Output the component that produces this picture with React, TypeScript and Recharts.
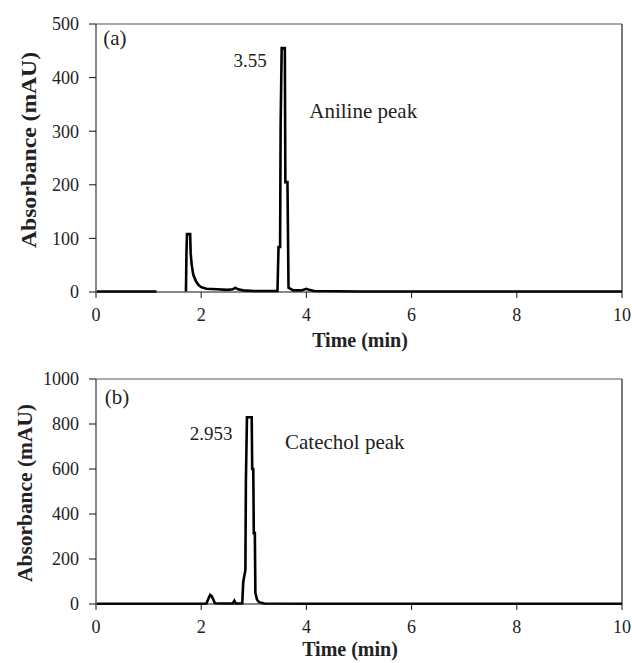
import React from 'react';
import { LineChart, Line, XAxis, YAxis, ReferenceLine, ReferenceDot } from 'recharts';

const SERIF = '"Liberation Serif", "Times New Roman", serif';

// ── Panel (a): aniline chromatogram ────────────────────────────
const timeA = [
  0.02, 0.5, 1.0, 1.15, 1.16, 1.70, 1.71, 1.72, 1.73, 1.79, 1.80, 1.82, 1.85, 1.90, 1.95,
  2.00, 2.10, 2.30, 2.50, 2.60, 2.65, 2.70, 2.80, 3.00, 3.20, 3.45, 3.47, 3.50, 3.51,
  3.53, 3.59, 3.60, 3.64, 3.66, 3.75, 3.90, 4.00, 4.05, 4.15, 5, 6, 7, 8, 9, 10,
];
const absA: (number | null)[] = [
  1, 1, 1, 1, null, null, 1, 75, 108, 108, 72, 50, 32, 20, 13,
  9, 6, 5, 4, 5, 8, 5, 3, 2, 2, 2, 84, 84, 310,
  455, 455, 205, 205, 8, 3, 3, 6, 4, 2, 1, 1, 1, 1, 1, 1,
];

// ── Panel (b): catechol chromatogram ───────────────────────────
const timeB = [
  0.02, 1, 2, 2.10, 2.14, 2.17, 2.20, 2.23, 2.26, 2.40, 2.60, 2.63, 2.66, 2.78,
  2.80, 2.84, 2.85, 2.87, 2.96, 2.97, 2.99, 3.00, 3.02, 3.03, 3.06, 3.10, 3.20,
  4, 5, 6, 7, 8, 9, 10,
];
const absB = [
  1, 1, 1, 2, 25, 40, 35, 20, 3, 2, 2, 15, 2, 3,
  100, 150, 550, 830, 830, 600, 600, 315, 315, 50, 20, 8, 2,
  1, 1, 1, 1, 1, 1, 1,
];

const timeTicks = [0, 2, 4, 6, 8, 10];
const ticksA = [0, 100, 200, 300, 400, 500];
const ticksB = [0, 200, 400, 600, 800, 1000];

const dataA = timeA.map((t, i) => ({ t, v: absA[i] }));
const dataB = timeB.map((t, i) => ({ t, v: absB[i] }));

const tickStyle = { fontSize: 18, fill: '#222', fontFamily: SERIF };

function AxisTitles({ yx, yy, yLen, yFont, xx, xy }: any) {
  return (
    <>
      <text
        x={yx} y={yy} transform={`rotate(-90 ${yx} ${yy})`}
        textAnchor="middle" dominantBaseline="central"
        fontSize={yFont} fontWeight="bold" fontFamily={SERIF} fill="#222"
        textLength={yLen} lengthAdjust="spacingAndGlyphs"
      >
        Absorbance (mAU)
      </text>
      <text
        x={xx} y={xy} textAnchor="middle"
        fontSize={20} fontWeight="bold" fontFamily={SERIF} fill="#222"
      >
        Time (min)
      </text>
    </>
  );
}

function note(x: number, y: number, text: string, size: number) {
  return (
    <ReferenceDot
      key={text}
      x={x} y={y} r={1} fillOpacity={0} strokeOpacity={0}
      label={{ value: text, position: 'center', fontSize: size, fontFamily: SERIF, fill: '#222' }}
    />
  );
}

function Panel({ data, max, ticks, height, top, bottom, notes }: any) {
  return (
    <LineChart width={632} height={height} data={data}
      margin={{ top, right: 10, left: 0, bottom }}>
      <XAxis
        type="number" dataKey="t" domain={[0, 10]} ticks={timeTicks}
        height={30} tickSize={6} tickMargin={10}
        axisLine={{ stroke: '#111' }} tickLine={{ stroke: '#111' }} tick={tickStyle}
      />
      <YAxis
        type="number" domain={[0, max]} ticks={ticks} width={96}
        tickSize={7} tickMargin={10}
        axisLine={{ stroke: '#111' }} tickLine={{ stroke: '#111' }} tick={tickStyle}
      />
      <ReferenceLine y={max} stroke="#555" strokeWidth={1.2} />
      <ReferenceLine x={10} stroke="#222" strokeWidth={1.2} />
      <Line
        type="linear" dataKey="v" stroke="#000" strokeWidth={2.6}
        dot={false} isAnimationActive={false} connectNulls={false}
      />
      {notes}
    </LineChart>
  );
}

export default function App() {
  return (
    <div style={{ position: 'absolute', left: 0, top: 0, width: 632, height: 663, background: '#fff' }}>
      <div style={{ position: 'absolute', left: 0, top: 340 }}>
        <Panel
          data={dataB} max={1000} ticks={ticksB} height={323} top={39} bottom={29}
          notes={[
            note(0.40, 921, '(b)', 21),
            note(2.19, 760, '2.953', 19),
            note(4.73, 720, 'Catechol peak', 21),
          ]}
        />
        <svg width={632} height={323} style={{ position: 'absolute', left: 0, top: 0, pointerEvents: 'none' }}>
          <AxisTitles yx={25} yy={153} yLen={178} yFont={21} xx={350} xy={316} />
        </svg>
      </div>
      <div style={{ position: 'absolute', left: 0, top: 0 }}>
        <Panel
          data={dataA} max={500} ticks={ticksA} height={340} top={24} bottom={18}
          notes={[
            note(0.36, 474, '(a)', 21),
            note(2.93, 433, '3.55', 19),
            note(5.08, 338, 'Aniline peak', 21),
          ]}
        />
        <svg width={632} height={360} style={{ position: 'absolute', left: 0, top: 0, pointerEvents: 'none' }}>
          <AxisTitles yx={28} yy={150} yLen={196} yFont={22} xx={360} xy={347} />
        </svg>
      </div>
    </div>
  );
}
